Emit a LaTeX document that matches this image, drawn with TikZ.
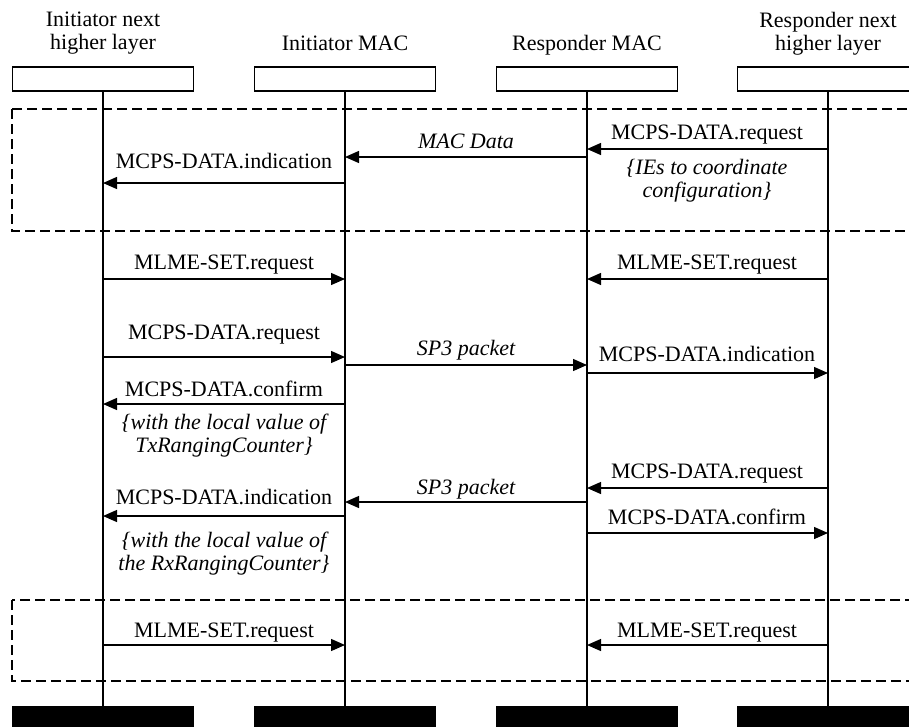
\documentclass[tikz,border=0pt]{standalone}
\usepackage{fontspec}
\setmainfont{Liberation Serif}
\usetikzlibrary{arrows.meta}
\begin{document}
\begin{tikzpicture}[x=1pt,y=-1pt,
  lbl/.style={font=\fontsize{22}{23}\selectfont, inner sep=0pt, anchor=base},
  ilbl/.style={font=\fontsize{22}{23}\selectfont\itshape, inner sep=0pt, anchor=base},
  note/.style={font=\fontsize{22}{23}\selectfont\itshape, inner sep=0pt, align=center},
  hdr/.style={font=\fontsize{22}{23}\selectfont, inner sep=0pt, align=center},
  headbox/.style={draw, line width=1.3pt, minimum width=181pt, minimum height=24pt, inner sep=0pt},
  footbox/.style={fill=black, draw=black, minimum width=181pt, minimum height=30pt, inner sep=0pt},
  life/.style={line width=1.3pt},
  msg/.style={line width=1.3pt, -{Triangle[length=14pt,width=12pt]}},
  grp/.style={line width=1.3pt, dash pattern=on 10pt off 5pt},
]
\useasboundingbox (0,0) rectangle (909,726);
\clip (0,0) rectangle (909,726);

% group boxes
\draw[grp] (12,109) rectangle (930,231);
\draw[grp] (12,600) rectangle (930,681);

% headers
\node[hdr] (t1) at (103,33.5) {Initiator next\\higher layer};
\node[lbl] (t2) at (345,50) {Initiator MAC};
\node[lbl] (t3) at (587,50) {Responder MAC};
\node[hdr] (t4) at (828,33.5) {Responder next\\higher layer};

\node[headbox] (h1) at (103,79) {};
\node[headbox] (h2) at (345,79) {};
\node[headbox] (h3) at (587,79) {};
\node[headbox] (h4) at (828,79) {};

\node[footbox] (f1) at (103,721) {};
\node[footbox] (f2) at (345,721) {};
\node[footbox] (f3) at (587,721) {};
\node[footbox] (f4) at (828,721) {};

\draw[life] (h1.south) -- (f1.north);
\draw[life] (h2.south) -- (f2.north);
\draw[life] (h3.south) -- (f3.north);
\draw[life] (h4.south) -- (f4.north);

% message end points on lifelines
\foreach \n/\y in {1/149,2/157,3/183,4/279,6/357,7/365,8/373,9/404,10/488,11/502,12/516,13/533,14/645}{
  \coordinate (A\n) at (103,\y);
  \coordinate (B\n) at (345,\y);
  \coordinate (C\n) at (587,\y);
  \coordinate (D\n) at (828,\y);
}

% messages
\draw[msg] (D1) -- (C1);
\node[lbl] (l1) at (707,139) {MCPS-DATA.request};
\node[note] (n1) at (707,180.5) {\{IEs to coordinate\\configuration\}};

\draw[msg] (C2) -- (B2);
\node[ilbl] (l2) at (466,148) {MAC Data};

\draw[msg] (B3) -- (A3);
\node[lbl] (l3) at (224,168) {MCPS-DATA.indication};

\draw[msg] (A4) -- (B4);
\node[lbl] (l4) at (224,269) {MLME-SET.request};
\draw[msg] (D4) -- (C4);
\node[lbl] (l5) at (707,269) {MLME-SET.request};

\draw[msg] (A6) -- (B6);
\node[lbl] (l6) at (224,339) {MCPS-DATA.request};

\draw[msg] (B7) -- (C7);
\node[ilbl] (l7) at (466,355) {SP3 packet};

\draw[msg] (C8) -- (D8);
\node[lbl] (l8) at (707,361) {MCPS-DATA.indication};

\draw[msg] (B9) -- (A9);
\node[lbl] (l9) at (224,396) {MCPS-DATA.confirm};
\node[note] (n9) at (224,436) {\{with the local value of\\TxRangingCounter\}};

\draw[msg] (D10) -- (C10);
\node[lbl] (l10) at (707,478) {MCPS-DATA.request};

\draw[msg] (C11) -- (B11);
\node[ilbl] (l11) at (466,494) {SP3 packet};

\draw[msg] (B12) -- (A12);
\node[lbl] (l12) at (224,504) {MCPS-DATA.indication};

\draw[msg] (C13) -- (D13);
\node[lbl] (l13) at (707,524) {MCPS-DATA.confirm};
\node[note] (n13) at (224,554) {\{with the local value of\\the RxRangingCounter\}};

\draw[msg] (A14) -- (B14);
\node[lbl] (l14) at (224,637) {MLME-SET.request};
\draw[msg] (D14) -- (C14);
\node[lbl] (l15) at (707,637) {MLME-SET.request};
\end{tikzpicture}
\end{document}
